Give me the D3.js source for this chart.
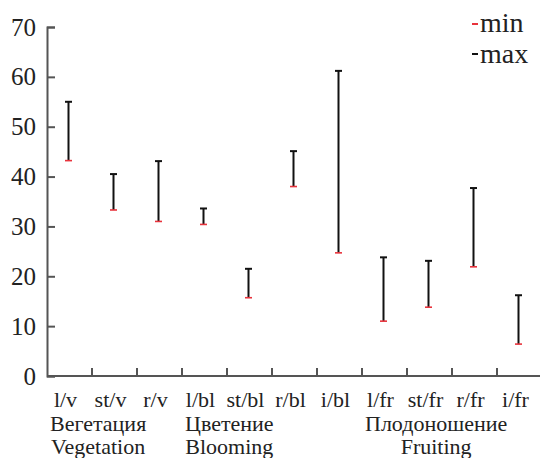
<!DOCTYPE html>
<html>
<head>
<meta charset="utf-8">
<script src="https://cdn.jsdelivr.net/npm/d3@7"></script>
<style>
  body { margin: 0; background: #fff; }
  text { font-family: "Liberation Serif", "Times New Roman", "DejaVu Serif", serif; fill: #222; }
</style>
</head>
<body>
<div id="wrapper"></div>
<script>
// data
const categories = ["l/v", "st/v", "r/v", "l/bl", "st/bl", "r/bl", "i/bl", "l/fr", "st/fr", "r/fr", "i/fr"]
const minValues = [43.2, 33.3, 31.0, 30.4, 15.7, 38.0, 24.7, 11.0, 13.8, 21.9, 6.4]
const maxValues = [55.0, 40.5, 43.1, 33.6, 21.5, 45.1, 61.2, 23.8, 23.1, 37.7, 16.2]
const yTicks = [0, 10, 20, 30, 40, 50, 60, 70]
const groups = [
  {first: "l/v", ru: "Вегетация", en: "Vegetation"},
  {first: "l/bl", ru: "Цветение", en: "Blooming"},
  {first: "l/fr", ru: "Плодоношение", en: "Fruiting"}
]
const legendItems = [
  {label: "min", color: "#e8333c"},
  {label: "max", color: "#111"}
]

let dimensions = {
  width: 540,
  height: 458,
  margin: {top: 27, right: -2, bottom: 82, left: 47}
}
dimensions.boundedWidth = dimensions.width - dimensions.margin.left - dimensions.margin.right
dimensions.boundedHeight = dimensions.height - dimensions.margin.top - dimensions.margin.bottom

const wrapper = d3.select("#wrapper")
  .append("svg")
  .attr("width", dimensions.width)
  .attr("height", dimensions.height)

const bounds = wrapper.append("g")
  .attr("transform", `translate(${dimensions.margin.left},${dimensions.margin.top})`)

const xScaler = d3.scaleBand()
  .domain(categories)
  .range([0, dimensions.boundedWidth])

const yScaler = d3.scaleLinear()
  .domain([0, 70])
  .range([dimensions.boundedHeight, 0])

const axisColor = "#555"

// y axis
const yAxis = bounds.append("g")
  .call(d3.axisRight(yScaler).tickValues(yTicks).tickSize(8).tickFormat(d3.format("d")))
  .attr("font-family", null)
yAxis.select(".domain").attr("stroke", axisColor).attr("stroke-width", 2)
yAxis.selectAll(".tick line").attr("stroke", axisColor).attr("stroke-width", 2)
yAxis.selectAll(".tick text")
  .attr("x", -11)
  .attr("text-anchor", "end")
  .attr("font-size", "25px")
  .attr("fill", "#222")

// x axis, ticks on band edges pointing up
const xAxis = bounds.append("g")
  .attr("transform", `translate(0,${dimensions.boundedHeight})`)
xAxis.append("line")
  .attr("x1", 0).attr("x2", dimensions.boundedWidth)
  .attr("stroke", axisColor).attr("stroke-width", 2)
xAxis.selectAll(".edge")
  .data(categories)
  .enter()
  .append("line")
    .attr("x1", d => xScaler(d) + xScaler.bandwidth())
    .attr("x2", d => xScaler(d) + xScaler.bandwidth())
    .attr("y1", 0).attr("y2", -8)
    .attr("stroke", axisColor).attr("stroke-width", 2)
xAxis.selectAll(".lbl")
  .data(categories)
  .enter()
  .append("text")
    .attr("x", d => xScaler(d) + xScaler.bandwidth() / 2 - 4)
    .attr("y", 31)
    .attr("text-anchor", "middle")
    .attr("font-size", "22px")
    .text(d => d)

// group labels
groups.forEach(g => {
  const ru = xAxis.append("text")
    .attr("x", xScaler(g.first) + 3)
    .attr("y", 55)
    .attr("font-size", "22px")
    .text(g.ru)
  const w = ru.node().getComputedTextLength()
  xAxis.append("text")
    .attr("x", xScaler(g.first) + 3 + w / 2)
    .attr("y", 78)
    .attr("text-anchor", "middle")
    .attr("font-size", "22px")
    .text(g.en)
})

// error bars
const bars = categories.map((c, i) => ({key: c, min: minValues[i], max: maxValues[i]}))
const cx = d => xScaler(d.key) + xScaler.bandwidth() / 2 - 1
const capHalf = 3.5

const barG = bounds.selectAll(".bar")
  .data(bars)
  .enter()
  .append("g")
barG.append("line")
  .attr("x1", cx).attr("x2", cx)
  .attr("y1", d => yScaler(d.min)).attr("y2", d => yScaler(d.max))
  .attr("stroke", "#111").attr("stroke-width", 2)
barG.append("line")
  .attr("x1", d => cx(d) - capHalf).attr("x2", d => cx(d) + capHalf)
  .attr("y1", d => yScaler(d.max)).attr("y2", d => yScaler(d.max))
  .attr("stroke", "#111").attr("stroke-width", 2)
barG.append("line")
  .attr("x1", d => cx(d) - capHalf).attr("x2", d => cx(d) + capHalf)
  .attr("y1", d => yScaler(d.min)).attr("y2", d => yScaler(d.min))
  .attr("stroke", legendItems[0].color).attr("stroke-width", 1.6)

// legend
const legend = wrapper.append("g")
  .attr("transform", "translate(471,0)")
legendItems.forEach((item, i) => {
  legend.append("line")
    .attr("x1", 1).attr("x2", 7)
    .attr("y1", 24 + i * 30).attr("y2", 24 + i * 30)
    .attr("stroke", item.color).attr("stroke-width", 2)
  legend.append("text")
    .attr("x", 9)
    .attr("y", 32 + i * 31)
    .attr("font-size", "28px")
    .text(item.label)
})
</script>
</body>
</html>
